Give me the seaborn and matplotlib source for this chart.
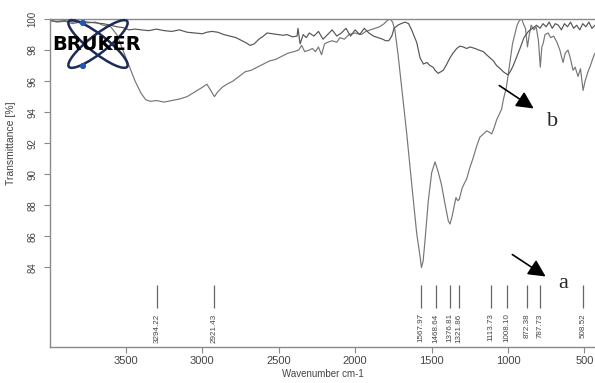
import numpy as np
import pandas as pd
import matplotlib
matplotlib.use("Agg")
import matplotlib.pyplot as plt
import seaborn as sns
from matplotlib.patches import Ellipse, Circle

# spectrum a (deep carboxylate bands)
wn_a = [3997, 3950, 3900, 3850, 3800, 3750, 3700, 3650, 3600, 3560, 3520, 3480, 3440, 3400,
        3370, 3340, 3300, 3250, 3200, 3150, 3100, 3050, 3000, 2970, 2945, 2921, 2900, 2870,
        2840, 2800, 2760, 2720, 2680, 2640, 2600, 2560, 2520, 2480, 2440, 2400, 2370, 2350,
        2330, 2300, 2280, 2260, 2240, 2220, 2200, 2180, 2150, 2120, 2100, 2070, 2040, 2000,
        1960, 1930, 1900, 1870, 1840, 1810, 1790, 1770, 1755, 1740, 1720, 1700, 1687, 1662,
        1630, 1597, 1575, 1566, 1555, 1543, 1521, 1499, 1477, 1456, 1434, 1412, 1390, 1379,
        1365, 1357, 1340, 1328, 1318, 1300, 1286, 1270, 1250, 1226, 1205, 1183, 1160, 1139,
        1120, 1106, 1090, 1074, 1055, 1041, 1030, 1010, 1000, 985, 970, 955, 940, 925, 910,
        895, 885, 872, 860, 848, 830, 815, 800, 788, 778, 770, 757, 737, 720, 700, 679, 660,
        650, 639, 625, 607, 595, 585, 574, 560, 541, 525, 508, 495, 476, 460, 443, 430]
tr_a = [99.9, 99.8, 99.85, 99.7, 99.8, 99.75, 99.8, 99.6, 99.5, 99.0, 98.0, 97.0, 96.0, 95.2,
        94.8, 94.7, 94.75, 94.65, 94.75, 94.85, 95.0, 95.3, 95.6, 95.8, 95.4, 95.0, 95.3, 95.6,
        95.8, 96.0, 96.3, 96.6, 96.7, 96.9, 97.1, 97.3, 97.4, 97.6, 97.8, 97.9, 98.0, 98.3,
        97.9, 98.0, 98.1, 97.9, 98.2, 97.7, 98.4, 98.5, 98.6, 98.5, 98.8, 98.7, 99.0, 99.1,
        99.0, 99.2, 99.3, 99.4, 99.5, 99.7, 99.9, 100.0, 99.8, 99.3, 97.8, 96.0, 94.8, 92.6,
        89.4, 86.2, 84.7, 84.0, 84.4, 85.7, 88.3, 90.1, 90.8, 90.15, 89.3, 88.1, 87.0, 86.8,
        87.3, 87.7, 88.5, 88.3, 88.4, 89.1, 89.4, 89.7, 90.4, 91.1, 91.8, 92.4, 92.6, 92.8,
        92.7, 92.6, 93.0, 93.5, 93.9, 94.2, 94.8, 95.6, 96.3, 97.3, 98.4, 99.0, 99.6, 99.9, 100.0,
        99.6, 99.4, 98.2, 99.0, 99.6, 99.3, 99.5, 98.6, 96.9, 98.2, 98.4, 99.0, 99.1, 98.8, 98.9,
        98.5, 98.0, 97.6, 97.2, 97.8, 98.0, 97.6, 97.2, 96.7, 96.9, 96.3, 96.8, 95.4, 96.0,
        96.6, 97.0, 97.5, 97.8]

# spectrum b (shallow)
wn_b = [3997, 3950, 3900, 3850, 3800, 3750, 3700, 3650, 3600, 3560, 3520, 3480, 3440, 3400,
        3350, 3300, 3250, 3200, 3150, 3100, 3050, 3000, 2970, 2937, 2900, 2860, 2820, 2780,
        2740, 2710, 2688, 2660, 2630, 2600, 2577, 2540, 2500, 2470, 2446, 2410, 2380, 2374,
        2360, 2340, 2320, 2300, 2270, 2240, 2210, 2180, 2150, 2120, 2090, 2060, 2030, 2000,
        1970, 1940, 1910, 1880, 1850, 1820, 1800, 1780, 1760, 1745, 1720, 1700, 1673, 1650,
        1630, 1610, 1597, 1575, 1553, 1530, 1510, 1490, 1477, 1456, 1440, 1423, 1400, 1379,
        1360, 1335, 1315, 1292, 1270, 1248, 1215, 1190, 1161, 1140, 1117, 1095, 1074, 1050,
        1030, 1015, 998, 980, 965, 945, 921, 895, 866, 840, 812, 790, 770, 750, 730, 710, 690,
        670, 650, 630, 610, 590, 570, 550, 530, 510, 490, 470, 450, 430]
tr_b = [99.9, 99.85, 99.9, 99.8, 99.85, 99.8, 99.75, 99.7, 99.6, 99.5, 99.45, 99.3, 99.35, 99.3,
        99.25, 99.35, 99.25, 99.2, 99.3, 99.15, 99.1, 99.05, 99.15, 99.2, 99.15, 99.0, 98.9, 98.8,
        98.6, 98.45, 98.3, 98.4, 98.7, 98.9, 99.1, 99.05, 99.0, 98.95, 99.0, 98.85, 98.9, 99.4,
        98.4, 99.0, 98.8, 99.1, 98.9, 99.2, 98.7, 99.0, 99.3, 98.9, 99.1, 99.4, 98.9, 99.3,
        99.0, 99.4, 99.1, 98.9, 98.8, 98.7, 98.6, 98.6, 98.9, 99.4, 99.6, 99.7, 99.8, 99.7,
        99.3, 98.8, 98.5, 97.5, 97.1, 97.2, 97.0, 96.9, 96.7, 96.5, 96.6, 96.7, 97.1, 97.5,
        97.8, 98.1, 98.25, 98.2, 98.1, 98.2, 98.1, 98.0, 97.9, 97.7, 97.5, 97.3, 97.0, 96.8,
        96.6, 96.5, 96.4, 96.7, 97.0, 97.5, 98.1, 98.8, 99.2, 99.4, 99.6, 99.4, 99.7, 99.5,
        99.8, 99.4, 99.7, 99.6, 99.3, 99.7, 99.5, 99.8, 99.4, 99.6, 99.3, 99.7, 99.5, 99.8,
        99.4, 99.6]

peaks = [3294.22, 2921.43, 1567.97, 1468.64, 1376.81, 1321.86, 1113.73, 1008.10,
         872.38, 787.73, 508.52]
peak_labels = ["3294.22", "2921.43", "1567.97", "1468.64", "1376.81", "1321.86",
               "1113.73", "1008.10", "872.38", "787.73", "508.52"]
x_ticks = [3500, 3000, 2500, 2000, 1500, 1000, 500]
y_ticks = [84, 86, 88, 90, 92, 94, 96, 98, 100]

sns.set_style("ticks")
plt.rcParams['font.family'] = ['Liberation Sans', 'DejaVu Sans']

df = pd.concat([
    pd.DataFrame({"wavenumber": wn_a, "transmittance": tr_a, "sample": "a"}),
    pd.DataFrame({"wavenumber": wn_b, "transmittance": tr_b, "sample": "b"}),
])

fig = plt.figure(figsize=(5.95, 3.83), dpi=100)
ax = fig.add_axes([50 / 595, 36.3 / 383, 545 / 595, 327.7 / 383])
sns.lineplot(data=df, x="wavenumber", y="transmittance", hue="sample",
             palette={"a": "#767676", "b": "#555555"}, estimator=None, sort=False,
             legend=False, lw=0.85, ax=ax)

ax.set_xlim(3997, 430)
ax.set_ylim(78.9, 100)
ax.set_xticks(x_ticks)
ax.set_yticks(y_ticks)
ax.set_xlabel("Wavenumber cm-1", fontsize=7, color="#444444", labelpad=2)
ax.set_ylabel("Transmittance [%]", fontsize=7.5, color="#444444", labelpad=4)
ax.yaxis.set_label_coords(-0.062, 0.62)
ax.tick_params(axis="both", length=4, width=0.8, color="#888888", labelcolor="#444444")
ax.tick_params(axis="x", labelsize=8, pad=3)
ax.tick_params(axis="y", labelsize=7, pad=5)
for lbl in ax.get_yticklabels():
    lbl.set_rotation(90)
    lbl.set_va("center")
for s in ["left", "bottom", "top"]:
    ax.spines[s].set_color("#8a8a8a")
    ax.spines[s].set_linewidth(1)
ax.spines["right"].set_visible(False)

# peak markers
ax.vlines(peaks, 81.4, 82.85, color="#666666", lw=0.9)
for p, lab in zip(peaks, peak_labels):
    ax.text(p, 81.05, lab, rotation=90, ha="center", va="top", fontsize=5.8, color="#444444")

# arrows and sample labels
ax.annotate("", xy=(548, 105), xytext=(510, 130), xycoords="figure pixels",
            textcoords="figure pixels",
            arrowprops=dict(arrowstyle="-|>", mutation_scale=26, lw=1.2, color="black"))
ax.annotate("", xy=(536, 273), xytext=(497, 299), xycoords="figure pixels",
            textcoords="figure pixels",
            arrowprops=dict(arrowstyle="-|>", mutation_scale=26, lw=1.2, color="black"))
fig.text(563 / 595, 100 / 383, "a", fontsize=16, family="Liberation Serif", ha="center", va="center")
fig.text(553 / 595, 261 / 383, "b", fontsize=16, family="Liberation Serif", ha="center", va="center")

# Bruker logo
lax = fig.add_axes([50 / 595, 1 - 75 / 383, 100 / 595, 60 / 383])
lax.set_xlim(50, 150)
lax.set_ylim(75, 15)
lax.axis("off")
lax.patch.set_alpha(0)
for ang in [38, -38]:
    lax.add_patch(Ellipse((98, 44), 74, 18, angle=ang, fill=False, ec="#1c2b5a", lw=1.8))
lax.add_patch(Circle((83, 23), 2.4, color="#2257b0"))
lax.add_patch(Circle((83, 66), 2.4, color="#2257b0"))
lax.text(97, 44.5, "BRUKER", ha="center", va="center", fontsize=14, fontweight="bold",
         family="DejaVu Sans", color="black")

fig.savefig("out.png", dpi=100)
